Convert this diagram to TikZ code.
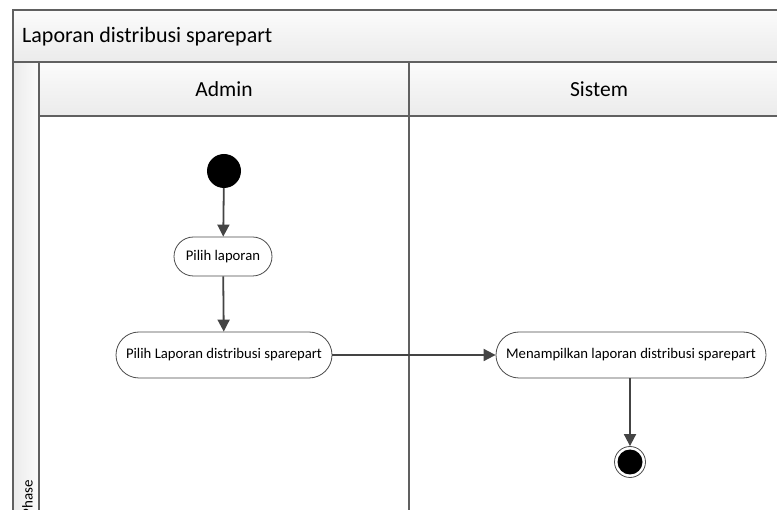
\documentclass[tikz,border=0pt]{standalone}
\usepackage{fontspec}
\setmainfont{Carlito}
\usetikzlibrary{arrows.meta}
\definecolor{frameline}{HTML}{606060}
\definecolor{flowline}{HTML}{444444}
\definecolor{bandtop}{HTML}{FBFBFB}
\definecolor{bandbot}{HTML}{EBEBEB}
\tikzset{
  band/.style={top color=bandtop, bottom color=bandbot, draw=frameline, line width=1.4pt},
  sideband/.style={left color=bandbot, right color=bandtop, draw=frameline, line width=1.4pt},
  divider/.style={draw=frameline, line width=1.6pt},
  action/.style={draw=black!70, fill=white, line width=0.8pt, rounded corners=#1,
    inner sep=0pt, font=\fontsize{14.7}{17}\selectfont},
  flow/.style={draw=flowline, line width=1.8pt, -{Triangle[length=12pt,width=12pt]}},
  headtext/.style={font=\fontsize{21.5}{25}\selectfont},
}
\begin{document}
\begin{tikzpicture}[x=1pt,y=-1pt]
\useasboundingbox (0,0) rectangle (777,510);
% pool frame and title band
\fill[white] (13,10) rectangle (790,520);
\path[band] (13,10) rectangle (790,62);
\node[anchor=west, font=\fontsize{22}{26}\selectfont, inner sep=0pt] (title) at (22,37) {Laporan distribusi sparepart};
% phase column
\path[sideband] (13,62) rectangle (39,520);
\node[rotate=90, anchor=east, font=\fontsize{15}{17}\selectfont, inner sep=0pt] (phase) at (27.5,480) {Phase};
% lane headers
\path[band] (39,62) rectangle (409,116);
\path[band] (409,62) rectangle (790,116);
\node[headtext] (admin) at (224,89) {Admin};
\node[headtext] (sistem) at (599,89) {Sistem};
% lane dividers
\draw[divider] (409,62) -- (409,520);
\draw[divider] (39,62) -- (39,520);

% activity nodes
\node[circle, fill=black, minimum size=34pt, inner sep=0pt] (start) at (224,171) {};
\node[action=19.5pt, minimum width=98pt, minimum height=39pt] (pilih) at (223,256.5) {Pilih laporan};
\node[action=23pt, minimum width=216pt, minimum height=46pt] (pilihdist) at (224,355) {Pilih Laporan distribusi sparepart};
\node[action=23pt, minimum width=270pt, minimum height=46pt] (tampil) at (631,355) {Menampilkan laporan distribusi sparepart};
\node[circle, draw=black!70, fill=white, line width=0.8pt, minimum size=31pt, inner sep=0pt] (end) at (630,462) {};
\fill[black] (end.center) circle (12.5pt);

% control flows
\draw[flow] (start) -- (pilih);
\draw[flow] (pilih) -- (pilihdist);
\draw[flow] (pilihdist) -- (tampil);
\draw[flow] (tampil.south -| end) -- (end);
\end{tikzpicture}
\end{document}
